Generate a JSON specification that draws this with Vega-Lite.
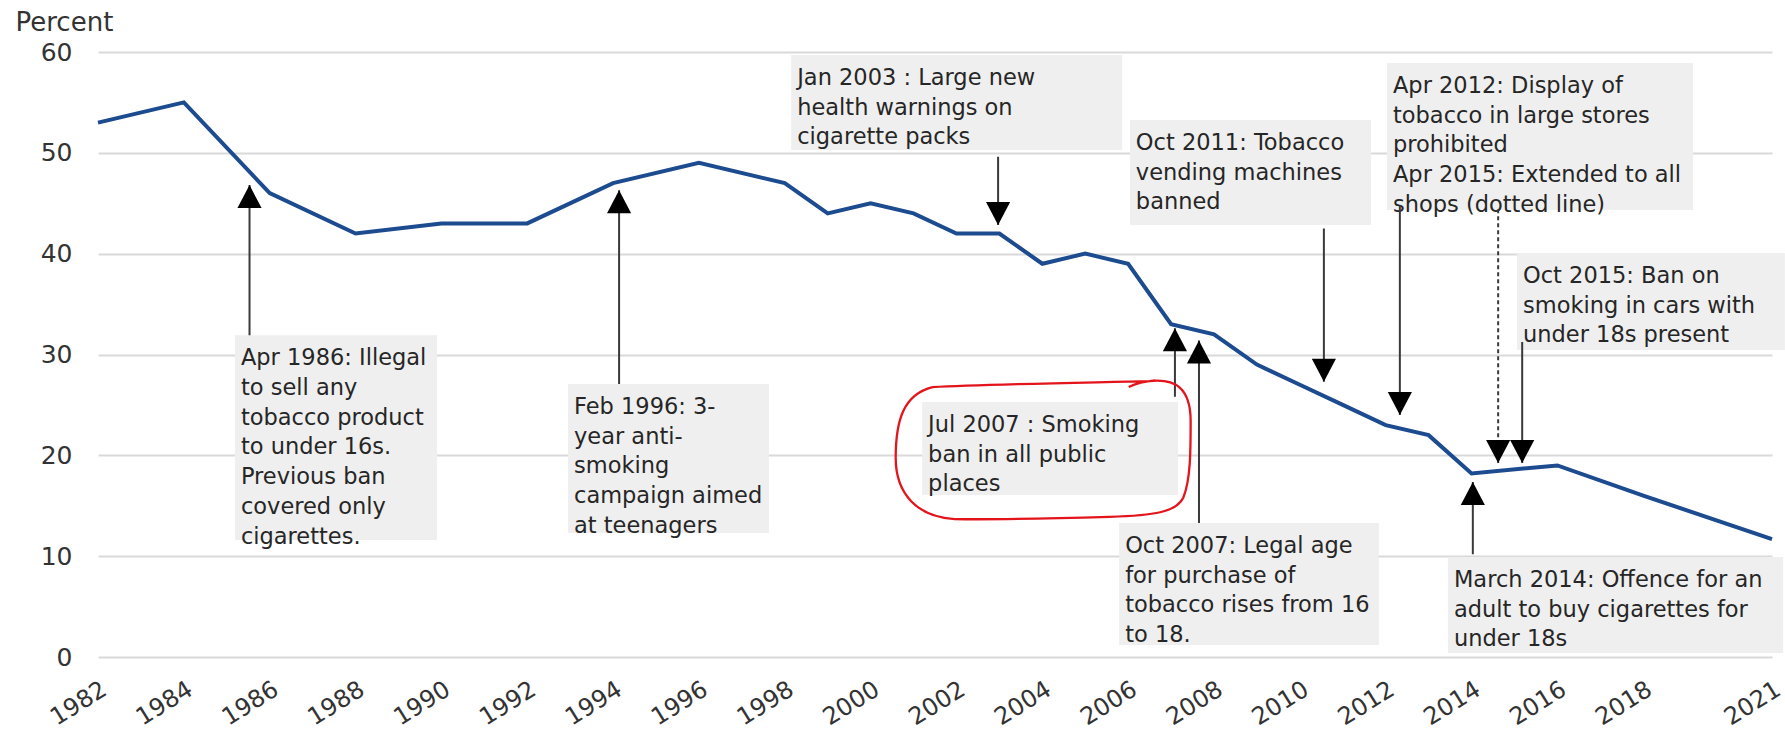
{
  "$schema": "https://vega.github.io/schema/vega-lite/v6.json",
  "width": 1674,
  "height": 605,
  "autosize": {"type": "none"},
  "padding": {"left": 98, "top": 52, "right": 13, "bottom": 79},
  "background": "white",
  "config": {"view": {"stroke": null}},
  "datasets": {
    "series": [
      {"year": 1982, "pct": 53}, {"year": 1984, "pct": 55}, {"year": 1986, "pct": 46},
      {"year": 1988, "pct": 42}, {"year": 1990, "pct": 43}, {"year": 1992, "pct": 43},
      {"year": 1994, "pct": 47}, {"year": 1996, "pct": 49}, {"year": 1998, "pct": 47},
      {"year": 1999, "pct": 44}, {"year": 2000, "pct": 45}, {"year": 2001, "pct": 44},
      {"year": 2002, "pct": 42}, {"year": 2003, "pct": 42}, {"year": 2004, "pct": 39},
      {"year": 2005, "pct": 40}, {"year": 2006, "pct": 39}, {"year": 2007, "pct": 33},
      {"year": 2008, "pct": 32}, {"year": 2009, "pct": 29}, {"year": 2010, "pct": 27},
      {"year": 2011, "pct": 25}, {"year": 2012, "pct": 23}, {"year": 2013, "pct": 22},
      {"year": 2014, "pct": 18.2}, {"year": 2016, "pct": 19}, {"year": 2018, "pct": 16},
      {"year": 2021, "pct": 11.7}
    ],
    "boxes": [
      {"x1": 1985.19, "x2": 1989.9, "top": 31.9, "bottom": 11.6, "label": "Apr 1986: Illegal\nto sell any\ntobacco product\nto under 16s.\nPrevious ban\ncovered only\ncigarettes."},
      {"x1": 1992.95, "x2": 1997.63, "top": 27.07, "bottom": 12.3, "label": "Feb 1996: 3-\nyear anti-\nsmoking\ncampaign aimed\nat teenagers"},
      {"x1": 1998.15, "x2": 2005.86, "top": 59.7, "bottom": 50.28, "label": "Jan 2003 : Large new\nhealth warnings on\ncigarette packs"},
      {"x1": 2006.04, "x2": 2011.66, "top": 53.26, "bottom": 42.84, "label": "Oct 2011: Tobacco\nvending machines\nbanned"},
      {"x1": 2012.03, "x2": 2019.16, "top": 58.91, "bottom": 44.33, "label": "Apr 2012: Display of\ntobacco in large stores\nprohibited\nApr 2015:  Extended to all\nshops (dotted line)"},
      {"x1": 2015.06, "x2": 2021.3, "top": 40.07, "bottom": 30.45, "label": "Oct 2015: Ban on\nsmoking in cars with\nunder 18s present"},
      {"x1": 2001.2, "x2": 2007.16, "top": 25.29, "bottom": 16.07, "label": "Jul 2007 : Smoking\nban in all public\nplaces"},
      {"x1": 2005.79, "x2": 2011.84, "top": 13.29, "bottom": 1.19, "label": "Oct 2007: Legal age\nfor purchase of\ntobacco rises from 16\nto 18."},
      {"x1": 2013.45, "x2": 2021.26, "top": 9.92, "bottom": 0.4, "label": "March 2014: Offence for an\nadult to buy cigarettes for\nunder 18s"}
    ],
    "arrows": [
      {"year": 1985.53, "tail": 31.9, "tip": 46.8, "dir": "up", "style": "solid"},
      {"year": 1994.14, "tail": 27.07, "tip": 46.3, "dir": "up", "style": "solid"},
      {"year": 2002.97, "tail": 49.6, "tip": 42.84, "dir": "down", "style": "solid"},
      {"year": 2010.56, "tail": 42.5, "tip": 27.3, "dir": "down", "style": "solid"},
      {"year": 2012.33, "tail": 44.8, "tip": 24.0, "dir": "down", "style": "solid"},
      {"year": 2014.62, "tail": 44.4, "tip": 19.24, "dir": "down", "style": "dotted"},
      {"year": 2015.18, "tail": 31.24, "tip": 19.24, "dir": "down", "style": "solid"},
      {"year": 2007.09, "tail": 25.8, "tip": 32.6, "dir": "up", "style": "solid"},
      {"year": 2007.65, "tail": 13.29, "tip": 31.4, "dir": "up", "style": "solid"},
      {"year": 2014.03, "tail": 10.2, "tip": 17.36, "dir": "up", "style": "solid"}
    ],
    "circled": [
      {"year": 2004.02, "pct": 20.48}
    ]
  },
  "layer": [
    {
      "data": {"name": "boxes"},
      "mark": {"type": "rect", "fill": "#efefef"},
      "encoding": {
        "x": {"field": "x1", "type": "quantitative", "scale": {"domain": [1982, 2021], "nice": false, "zero": false},
          "axis": {"values": [1982, 1984, 1986, 1988, 1990, 1992, 1994, 1996, 1998, 2000, 2002, 2004, 2006, 2008, 2010, 2012, 2014, 2016, 2018, 2021],
            "format": "d", "labelAngle": -32, "labelAlign": "right", "labelBaseline": "top", "labelPadding": 20,
            "labelFont": "DejaVu Sans", "labelFontSize": 24, "labelColor": "#333333", "ticks": false, "domain": false, "grid": false,
            "labelFlush": false, "labelOverlap": false, "title": null}},
        "x2": {"field": "x2"},
        "y": {"field": "top", "type": "quantitative", "scale": {"domain": [0, 60], "nice": false, "zero": false},
          "axis": {"values": [0, 10, 20, 30, 40, 50, 60], "labelFont": "DejaVu Sans", "labelFontSize": 25, "labelColor": "#333333",
            "labelPadding": 26, "ticks": false, "domain": false, "grid": true, "gridColor": "#d9d9d9", "gridWidth": 2, "labelFlush": false,
            "title": "Percent", "titleAngle": 0, "titleX": -83, "titleY": -30, "titleAlign": "left", "titleBaseline": "middle",
            "titleFont": "DejaVu Sans", "titleFontSize": 26, "titleFontWeight": "normal", "titleColor": "#333333"}},
        "y2": {"field": "bottom"}
      }
    },
    {
      "data": {"name": "boxes"},
      "mark": {"type": "text", "align": "left", "baseline": "alphabetic", "dx": 6, "dy": 30, "lineBreak": "\n", "lineHeight": 29.7, "font": "DejaVu Sans", "fontSize": 22.5, "color": "#262626"},
      "encoding": {
        "x": {"field": "x1", "type": "quantitative", "scale": {"domain": [1982, 2021], "nice": false, "zero": false}},
        "y": {"field": "top", "type": "quantitative", "scale": {"domain": [0, 60], "nice": false, "zero": false}},
        "text": {"field": "label"}
      }
    },
    {
      "data": {"name": "series"},
      "mark": {"type": "line", "color": "#1c4b8f", "strokeWidth": 4},
      "encoding": {
        "x": {"field": "year", "type": "quantitative", "scale": {"domain": [1982, 2021], "nice": false, "zero": false}},
        "y": {"field": "pct", "type": "quantitative", "scale": {"domain": [0, 60], "nice": false, "zero": false}}
      }
    },
    {
      "data": {"name": "arrows"},
      "mark": {"type": "rule", "color": "#3a3a3a", "strokeWidth": 2},
      "encoding": {
        "x": {"field": "year", "type": "quantitative", "scale": {"domain": [1982, 2021], "nice": false, "zero": false}},
        "y": {"field": "tail", "type": "quantitative", "scale": {"domain": [0, 60], "nice": false, "zero": false}},
        "y2": {"field": "tip"},
        "strokeDash": {"field": "style", "type": "nominal", "scale": {"domain": ["solid", "dotted"], "range": [[1, 0], [4, 3]]}, "legend": null}
      }
    },
    {
      "data": {"name": "arrows"},
      "mark": {"type": "point", "filled": true, "size": 529, "color": "#000000", "opacity": 1, "strokeWidth": 0},
      "encoding": {
        "x": {"field": "year", "type": "quantitative", "scale": {"domain": [1982, 2021], "nice": false, "zero": false}},
        "y": {"field": "tip", "type": "quantitative", "scale": {"domain": [0, 60], "nice": false, "zero": false}},
        "shape": {"field": "dir", "type": "nominal", "scale": {"domain": ["up", "down"], "range": ["M0,0L1.05,2L-1.05,2Z", "M0,0L1.05,-2L-1.05,-2Z"]}, "legend": null}
      }
    },
    {
      "data": {"name": "circled"},
      "mark": {"type": "point", "filled": false, "size": 87000, "color": "#e3141b", "opacity": 1, "strokeWidth": 2.3,
        "shape": "M-0.75,-0.43C-0.4,-0.45,0.3,-0.46,0.72,-0.47C0.9,-0.49,1,-0.42,1,-0.2C1,0,1,0.2,0.95,0.32C0.9,0.42,0.75,0.44,0.45,0.45C0.1,0.46,-0.3,0.47,-0.6,0.465C-0.85,0.45,-1,0.3,-1,0.05C-1,-0.2,-0.95,-0.38,-0.75,-0.43M0.58,-0.43C0.64,-0.46,0.7,-0.47,0.76,-0.475"},
      "encoding": {
        "x": {"field": "year", "type": "quantitative", "scale": {"domain": [1982, 2021], "nice": false, "zero": false}},
        "y": {"field": "pct", "type": "quantitative", "scale": {"domain": [0, 60], "nice": false, "zero": false}}
      }
    }
  ]
}
